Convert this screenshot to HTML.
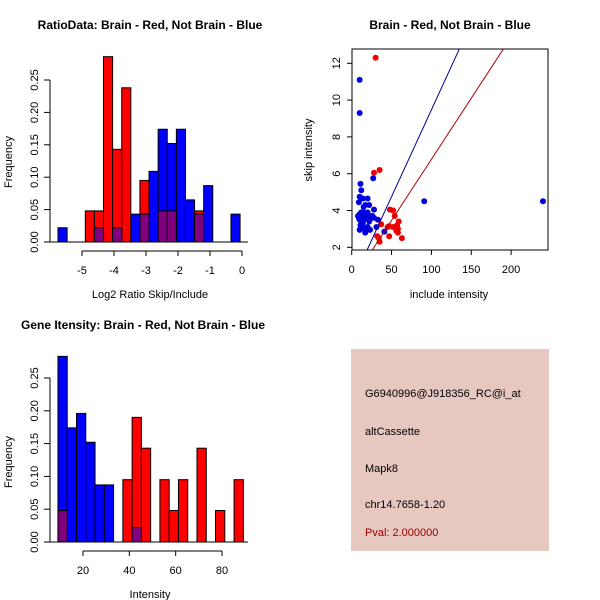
<!DOCTYPE html>
<html><head><meta charset="utf-8"><style>
body{margin:0;background:#fff}
svg{display:block;font-family:"Liberation Sans",sans-serif}
</style></head><body>
<svg id="s" width="600" height="600" viewBox="0 0 600 600">
<rect width="600" height="600" fill="#fff"/>
<g id="p1"></g>
<g id="p2"></g>
<g id="p3"></g>
<g id="p4">
<rect x="351" y="349" width="198" height="202" fill="#e6c8c0"/>
<text x="365" y="397" font-size="11">G6940996@J918356_RC@i_at</text>
<text x="365" y="435" font-size="11">altCassette</text>
<text x="365" y="472" font-size="11">Mapk8</text>
<text x="365" y="508" font-size="11">chr14.7658-1.20</text>
<text x="365" y="536" font-size="11" fill="#a00000">Pval: 2.000000</text>
</g>
</svg>
<script>
// Ratio histogram data (bin index -> frequency)
const ratioBinStart = -5.75;
const ratioBinWidth = 0.2845;
const ratioRedBins = [3,4,5,6,7,9,11,12,15];
const ratioRedFreq = [0.048,0.048,0.286,0.143,0.238,0.095,0.048,0.048,0.048];
const ratioBlueBins = [0,4,6,8,9,10,11,12,13,14,15,16,19];
const ratioBlueFreq = [0.022,0.022,0.022,0.043,0.043,0.109,0.174,0.152,0.174,0.065,0.043,0.087,0.043];
const ratioXTicks = [-5,-4,-3,-2,-1,0];
const freqTicks = [0,0.05,0.10,0.15,0.20,0.25];
const freqTickLabels = ["0.00","0.05","0.10","0.15","0.20","0.25"];

// Intensity histogram
const intBinStart = 9.2;
const intBinWidth = 4;
const intRedBins = [0,7,8,9,11,12,13,15,17,19];
const intRedFreq = [0.048,0.095,0.190,0.143,0.095,0.048,0.095,0.143,0.048,0.095];
const intBlueBins = [0,1,2,3,4,5,8];
const intBlueFreq = [0.283,0.174,0.196,0.152,0.087,0.087,0.022];
const intXTicks = [20,40,60,80];

// Scatter data
const blueInclude = [10,10,11,12,10,14,20,9,17,22,28,15,91,240,27,8,10,12,14,16,18,20,22,10,12,14,9,11,13,16,18,17,20,22,24,28,31,33,23,10,41,15,19,26,12,15];
const blueSkip = [11.1,9.3,5.45,5.1,4.75,4.65,4.65,4.45,4.3,4.3,4.05,4.2,4.5,4.5,5.75,3.7,3.8,3.9,3.7,3.8,3.6,3.9,3.7,3.5,3.4,3.3,3.6,3.2,3.1,3.0,2.9,2.8,3.1,3.4,3.6,3.6,3.1,3.5,2.95,2.95,2.85,3.5,3.8,3.7,3.6,3.9];
const redInclude = [30,28,35,48,52,54,37,47,52,55,57,59,58,56,58,63,47,32,34,35,45];
const redSkip = [12.3,6.05,6.2,4.05,4.0,3.7,3.25,3.15,3.1,3.05,3.2,3.4,3.0,2.9,2.8,2.5,2.6,2.6,2.5,2.3,3.1];
const blueFit = [0.03,0.0944];
const redFit = [0.14,0.0664];
const scXTicks = [0,50,100,150,200];
const scYTicks = [2,4,6,8,10,12];

const NS="http://www.w3.org/2000/svg";
function mk(parent,tag,attrs,text){const e=document.createElementNS(NS,tag);for(const k in attrs)e.setAttribute(k,attrs[k]);if(text!==undefined)e.textContent=text;parent.appendChild(e);return e;}

function hist(g,title,xlab,bStart,bW,xOf,y0,ky,rB,rF,bB,bF,xt,xtl,xl0,xl1){
  const yOf=v=>y0-v*ky;
  let t=mk(g,'text',{x:150,y:29,'font-size':12,'font-weight':'bold','text-anchor':'middle'},title);
  
  const draw=(bins,fr,col,nm)=>bins.forEach((b,i)=>{const xa=xOf(bStart+b*bW),xb=xOf(bStart+(b+1)*bW);
    const r=mk(g,'rect',{x:xa,y:yOf(fr[i]),width:xb-xa,height:y0-yOf(fr[i]),fill:col,stroke:'#000','stroke-width':1});
    });
  draw(rB,rF,'#ff0000','bar-brain');
  draw(bB,bF,'#0000ff','bar-not-brain');
  bB.forEach((b,i)=>{const j=rB.indexOf(b);if(j<0)return;const m=Math.min(bF[i],rF[j]);
    const xa=xOf(bStart+b*bW),xb=xOf(bStart+(b+1)*bW);
    const r=mk(g,'rect',{x:xa,y:yOf(m),width:xb-xa,height:y0-yOf(m),fill:'#800080',stroke:'#000','stroke-width':1});
    });
  const lo=xOf(bStart),hi=xOf(bStart+20*bW);
  mk(g,'line',{x1:50,y1:y0,x2:248,y2:y0,stroke:'#000'});
  // y axis
  mk(g,'line',{x1:50,y1:yOf(0),x2:50,y2:yOf(0.25),stroke:'#000'});
  freqTicks.forEach((v,i)=>{mk(g,'line',{x1:44,y1:yOf(v),x2:50,y2:yOf(v),stroke:'#000'});
    const l=mk(g,'text',{x:38,y:yOf(v),'font-size':11,'text-anchor':'middle',transform:`rotate(-90 38 ${yOf(v)})`},freqTickLabels[i]);
    });
  // x axis
  const ya=y0+9;
  mk(g,'line',{x1:xOf(xt[0]),y1:ya,x2:xOf(xt[xt.length-1]),y2:ya,stroke:'#000'});
  xt.forEach(v=>{mk(g,'line',{x1:xOf(v),y1:ya,x2:xOf(v),y2:ya+5,stroke:'#000'});
    const l=mk(g,'text',{x:xOf(v),y:ya+23,'font-size':11,'text-anchor':'middle'},String(v));
    });
  let a=mk(g,'text',{x:150,y:y0+56,'font-size':11,'text-anchor':'middle'},xlab);
  
  let b=mk(g,'text',{x:12,y:y0-80,'font-size':11,'text-anchor':'middle',transform:`rotate(-90 12 ${y0-80})`},'Frequency');
  
}
const g1=document.getElementById('p1');
hist(g1,'RatioData: Brain - Red, Not Brain - Blue','Log2 Ratio Skip/Include',ratioBinStart,ratioBinWidth,v=>242+v*32,242,648,ratioRedBins,ratioRedFreq,ratioBlueBins,ratioBlueFreq,ratioXTicks);
const g3=document.getElementById('p3');
g3.setAttribute('transform','translate(0,300)');
hist(g3,'Gene Itensity: Brain - Red, Not Brain - Blue','Intensity',intBinStart,intBinWidth,v=>83+(v-20)*2.317,242,656,intRedBins,intRedFreq,intBlueBins,intBlueFreq,intXTicks);
g3.firstChild.setAttribute('x',143);

// scatter
const g2=document.getElementById('p2');
const sx=v=>351.7+v*0.797, sy=v=>247.3-(v-2)*18.4;
let t2=mk(g2,'text',{x:450,y:29,'font-size':12,'font-weight':'bold','text-anchor':'middle'},'Brain - Red, Not Brain - Blue');

mk(g2,'defs',{}).innerHTML='<clipPath id="cp"><rect x="352" y="49" width="196" height="201"/></clipPath>';
const pts=(xs,ys,col,nm)=>xs.forEach((v,i)=>{const c=mk(g2,'circle',{cx:sx(v),cy:sy(ys[i]),r:3,fill:col,'clip-path':'url(#cp)'});
  });
pts(blueInclude,blueSkip,'#0000dd','point-not-brain');
pts(redInclude,redSkip,'#ee0000','point-brain');
const fit=(f,col,nm)=>{const l=mk(g2,'line',{x1:sx(0),y1:sy(f[0]),x2:sx(300),y2:sy(f[0]+f[1]*300),stroke:col,'stroke-width':1,'clip-path':'url(#cp)'});
  };
fit(blueFit,'#00008b','fit-line-not-brain');
fit(redFit,'#b00000','fit-line-brain');
const box=mk(g2,'rect',{x:352,y:49,width:196,height:201,fill:'none',stroke:'#000'});

scXTicks.forEach(v=>{mk(g2,'line',{x1:sx(v),y1:250,x2:sx(v),y2:255,stroke:'#000'});
  const l=mk(g2,'text',{x:sx(v),y:273,'font-size':11,'text-anchor':'middle'},String(v));
  });
scYTicks.forEach(v=>{mk(g2,'line',{x1:347,y1:sy(v),x2:352,y2:sy(v),stroke:'#000'});
  const l=mk(g2,'text',{x:340,y:sy(v),'font-size':11,'text-anchor':'middle',transform:`rotate(-90 340 ${sy(v)})`},String(v));
  });
let xa=mk(g2,'text',{x:449,y:298,'font-size':11,'text-anchor':'middle'},'include intensity');

let ya=mk(g2,'text',{x:312,y:150,'font-size':11,'text-anchor':'middle',transform:'rotate(-90 312 150)'},'skip intensity');

</script>
</body></html>
